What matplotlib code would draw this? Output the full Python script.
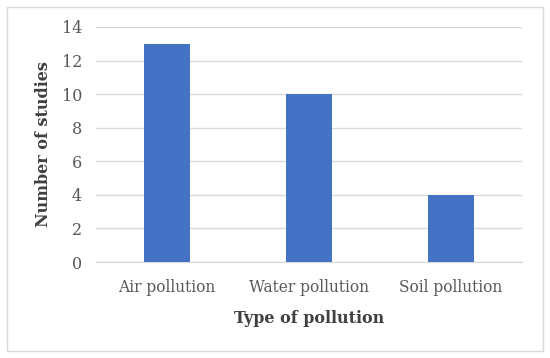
import matplotlib.pyplot as plt
from matplotlib.patches import Rectangle

categories = ['Air pollution', 'Water pollution', 'Soil pollution']
studies = [13, 10, 4]
y_ticks = [0, 2, 4, 6, 8, 10, 12, 14]

plt.rcParams['font.family'] = ['DejaVu Serif']

fig = plt.figure(figsize=(5.5, 3.58), dpi=100)
ax = fig.add_axes([0.1745, 0.268, 0.7745, 0.6566])

x = range(len(categories))
ax.bar(x, studies, width=0.32, color='#4472C4', zorder=3)
ax.set_xlim(-0.5, len(categories) - 0.5)
ax.set_ylim(0, 14)
ax.set_yticks(y_ticks)
ax.set_xticks(list(x))
ax.set_xticklabels(categories)

ax.yaxis.grid(True, color='#d9d9d9', linewidth=1, zorder=0)
for side in ['top', 'right', 'left']:
    ax.spines[side].set_visible(False)
ax.spines['bottom'].set_color('#d9d9d9')
ax.tick_params(axis='x', length=0, labelsize=11.2, colors='#595959', pad=12)
ax.tick_params(axis='y', length=0, labelsize=11.5, colors='#595959', pad=10)

ax.set_xlabel('Type of pollution', fontsize=11.5, fontweight='bold', color='#404040', labelpad=10)
ax.set_ylabel('Number of studies', fontsize=11.5, fontweight='bold', color='#404040', labelpad=7)

# outer chart border
fig.patches.append(Rectangle((0.013, 0.02), 0.974, 0.96, transform=fig.transFigure,
                             fill=False, edgecolor='#d9d9d9', linewidth=1))

fig.savefig('out.png', dpi=100)
